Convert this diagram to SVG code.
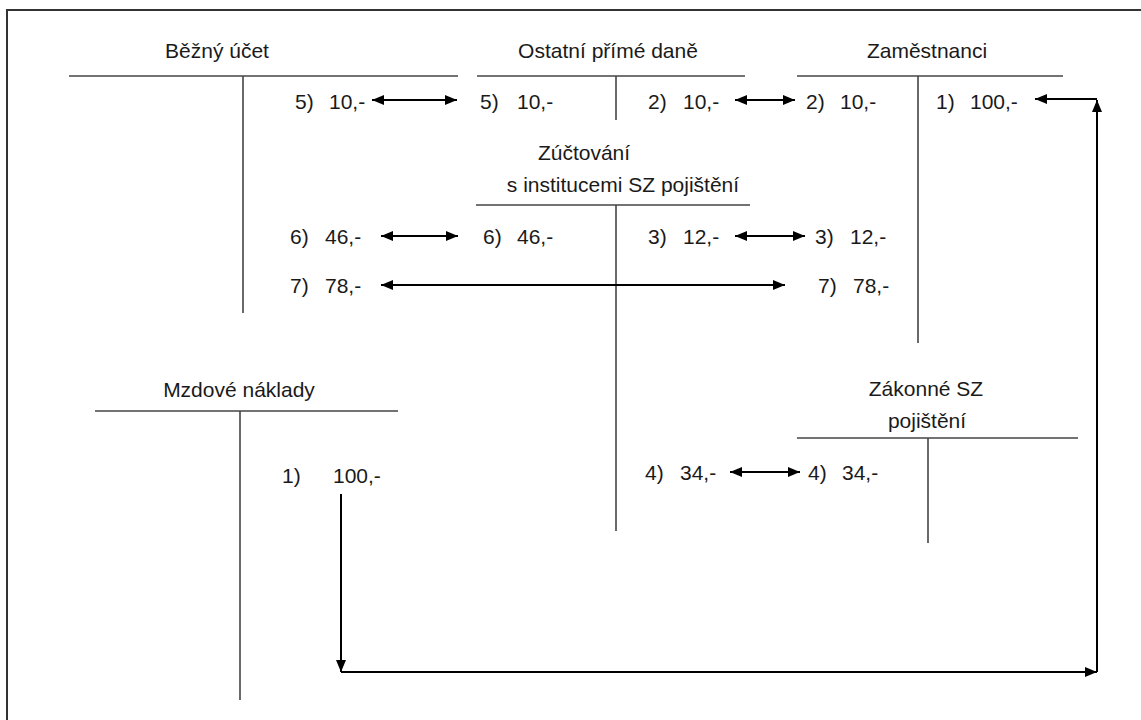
<svg xmlns="http://www.w3.org/2000/svg" width="1141" height="720" viewBox="0 0 1141 720">
<defs>
<style>
.t{font-family:"Liberation Sans",Arial,sans-serif;font-size:21px;fill:#1a1a1a}
.ac{stroke:#444;stroke-width:1.6;fill:none}
.ar{stroke:#000;stroke-width:2;fill:none}
</style>
<marker id="ah" viewBox="0 0 12 10" refX="12" refY="5" markerWidth="12" markerHeight="10" markerUnits="userSpaceOnUse" orient="auto-start-reverse">
<path d="M0,0 L12,5 L0,10 Z" fill="#000"/>
</marker>
</defs>
<rect x="0" y="0" width="1141" height="720" fill="#fff"/>
<path d="M7,720 V10 H1141" stroke="#333" stroke-width="2" fill="none"/>

<g id="bezny-ucet">
<text class="t" x="217" y="58" text-anchor="middle">Běžný účet</text>
<line class="ac" x1="69" y1="76" x2="458" y2="76"/>
<line class="ac" x1="243" y1="76" x2="243" y2="313"/>
<text class="t" y="109"><tspan x="295">5)</tspan> <tspan x="329">10,-</tspan></text>
<text class="t" y="244"><tspan x="290">6)</tspan> <tspan x="325">46,-</tspan></text>
<text class="t" y="293"><tspan x="290">7)</tspan> <tspan x="325">78,-</tspan></text>
</g>

<g id="ostatni-prime-dane">
<text class="t" x="608" y="58" text-anchor="middle">Ostatní přímé daně</text>
<line class="ac" x1="477" y1="76" x2="745" y2="76"/>
<line class="ac" x1="616" y1="76" x2="616" y2="120"/>
<text class="t" y="109"><tspan x="480">5)</tspan> <tspan x="517">10,-</tspan></text>
<text class="t" y="109"><tspan x="648">2)</tspan> <tspan x="683">10,-</tspan></text>
</g>

<g id="zamestnanci">
<text class="t" x="927" y="58" text-anchor="middle">Zaměstnanci</text>
<line class="ac" x1="797" y1="76" x2="1063" y2="76"/>
<line class="ac" x1="918" y1="76" x2="918" y2="343"/>
<text class="t" y="109"><tspan x="806">2)</tspan> <tspan x="840">10,-</tspan></text>
<text class="t" y="109"><tspan x="936">1)</tspan> <tspan x="970">100,-</tspan></text>
<text class="t" y="244"><tspan x="815">3)</tspan> <tspan x="850">12,-</tspan></text>
<text class="t" y="293"><tspan x="818">7)</tspan> <tspan x="853">78,-</tspan></text>
</g>

<g id="zuctovani">
<text class="t" x="584" y="160" text-anchor="middle">Zúčtování</text>
<text class="t" x="623" y="192" text-anchor="middle">s institucemi SZ pojištění</text>
<line class="ac" x1="476" y1="205" x2="750" y2="205"/>
<line class="ac" x1="616" y1="205" x2="616" y2="531"/>
<text class="t" y="244"><tspan x="483">6)</tspan> <tspan x="517">46,-</tspan></text>
<text class="t" y="244"><tspan x="648">3)</tspan> <tspan x="683">12,-</tspan></text>
<text class="t" y="480"><tspan x="645">4)</tspan> <tspan x="680">34,-</tspan></text>
</g>

<g id="mzdove-naklady">
<text class="t" x="239" y="397" text-anchor="middle">Mzdové náklady</text>
<line class="ac" x1="95" y1="411" x2="398" y2="411"/>
<line class="ac" x1="240" y1="411" x2="240" y2="700"/>
<text class="t" y="483"><tspan x="282">1)</tspan> <tspan x="333">100,-</tspan></text>
</g>

<g id="zakonne-sz">
<text class="t" x="926" y="396" text-anchor="middle">Zákonné SZ</text>
<text class="t" x="927" y="428" text-anchor="middle">pojištění</text>
<line class="ac" x1="797" y1="438" x2="1078" y2="438"/>
<line class="ac" x1="928" y1="438" x2="928" y2="543"/>
<text class="t" y="480"><tspan x="808">4)</tspan> <tspan x="842">34,-</tspan></text>
</g>

<g id="connectors">
<line class="ar" x1="372" y1="100" x2="457" y2="100" marker-start="url(#ah)" marker-end="url(#ah)"/>
<line class="ar" x1="735" y1="100" x2="795" y2="100" marker-start="url(#ah)" marker-end="url(#ah)"/>
<line class="ar" x1="381" y1="236" x2="458" y2="236" marker-start="url(#ah)" marker-end="url(#ah)"/>
<line class="ar" x1="735" y1="236" x2="805" y2="236" marker-start="url(#ah)" marker-end="url(#ah)"/>
<line class="ar" x1="381" y1="285" x2="785" y2="285" marker-start="url(#ah)" marker-end="url(#ah)"/>
<line class="ar" x1="730" y1="472" x2="800" y2="472" marker-start="url(#ah)" marker-end="url(#ah)"/>
<line class="ar" x1="341" y1="494" x2="341" y2="672" marker-end="url(#ah)"/>
<line class="ar" x1="341" y1="672" x2="1097" y2="672" marker-end="url(#ah)"/>
<line class="ar" x1="1097" y1="672" x2="1097" y2="100" marker-end="url(#ah)"/>
<line class="ar" x1="1097" y1="99" x2="1035" y2="99" marker-end="url(#ah)"/>
</g>
</svg>
